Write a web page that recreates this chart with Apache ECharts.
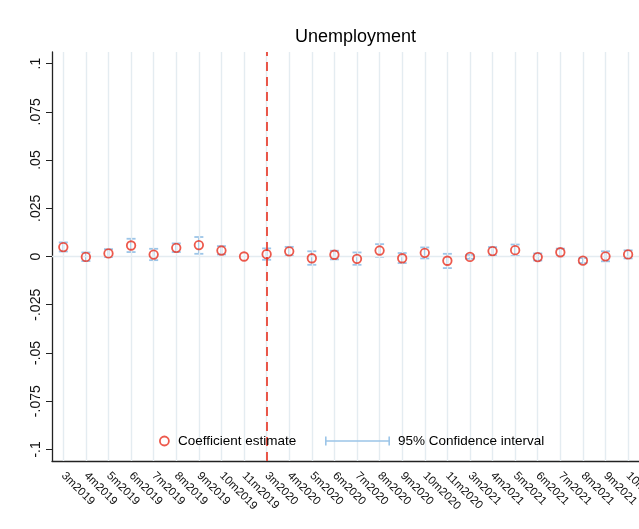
<!DOCTYPE html>
<html>
<head>
<meta charset="utf-8">
<title>Unemployment</title>
<script src="https://cdn.jsdelivr.net/npm/echarts@6/dist/echarts.min.js"></script>
<style>
  html, body { margin: 0; padding: 0; background: #fff; }
  #chart { width: 639px; height: 529px; }
</style>
</head>
<body>
<div id="chart"></div>
<script>
// Event-study months (March–November of each year)
const months = [
  '3m2019', '4m2019', '5m2019', '6m2019', '7m2019', '8m2019', '9m2019', '10m2019', '11m2019',
  '3m2020', '4m2020', '5m2020', '6m2020', '7m2020', '8m2020', '9m2020', '10m2020', '11m2020',
  '3m2021', '4m2021', '5m2021', '6m2021', '7m2021', '8m2021', '9m2021', '10m2021', '11m2021'
];

// Point estimates (11m2019 is the omitted reference month)
const estimate = [
  0.0049, -0.0002, 0.0016, 0.0057, 0.0010, 0.0045, 0.0059, 0.0031, 0.0000,
  0.0012, 0.0027, -0.0009, 0.0009, -0.0012, 0.0031, -0.0009, 0.0019, -0.0022,
  -0.0002, 0.0028, 0.0033, -0.0003, 0.0022, -0.0021, 0.0001, 0.0011, null
];

// 95% confidence bounds
const ciLow = [
  0.0026, -0.0024, -0.0003, 0.0023, -0.0019, 0.0023, 0.0014, 0.0010, null,
  -0.0017, 0.0004, -0.0043, -0.0015, -0.0043, -0.0002, -0.0034, -0.0010, -0.0060,
  -0.0012, 0.0005, 0.0003, -0.0021, 0.0001, -0.0034, -0.0025, -0.0010, null
];
const ciHigh = [
  0.0073, 0.0021, 0.0038, 0.0092, 0.0040, 0.0068, 0.0101, 0.0054, null,
  0.0042, 0.0050, 0.0027, 0.0030, 0.0021, 0.0064, 0.0018, 0.0047, 0.0014,
  0.0008, 0.0049, 0.0062, 0.0016, 0.0041, -0.0008, 0.0027, 0.0032, null
];

// Y tick positions and their labels
const yTickValues = [-0.1, -0.075, -0.05, -0.025, 0, 0.025, 0.05, 0.075, 0.1];
const yTickLabels = ['-.1', '-.075', '-.05', '-.025', '0', '.025', '.05', '.075', '.1'];

const eventMonth = '3m2020';

const FONT = '"Liberation Sans", Arial, Helvetica, sans-serif';
const RED = '#e8301f';
const BLUE = '#9cc5e8';
const GRID = '#e4ecf1';

const ciData = [];
months.forEach(function (m, i) {
  if (ciLow[i] != null && ciHigh[i] != null) ciData.push([i, ciLow[i], ciHigh[i]]);
});

function tickLabel(v) {
  for (let i = 0; i < yTickValues.length; i++) {
    if (Math.abs(yTickValues[i] - v) < 1e-9) return yTickLabels[i];
  }
  return '';
}

const chart = echarts.init(document.getElementById('chart'), null, { renderer: 'canvas' });

chart.setOption({
  animation: false,
  backgroundColor: '#fff',
  title: {
    text: 'Unemployment',
    left: 290,
    top: 23,
    textStyle: { fontFamily: FONT, fontSize: 18, fontWeight: 'normal', color: '#000' }
  },
  // white panel behind the legend, covering the reference lines
  graphic: [{
    type: 'rect',
    left: 150,
    top: 424,
    z: 3.5,
    silent: true,
    shape: { width: 404, height: 29 },
    style: { fill: '#fff' }
  }],
  legend: [
    {
      left: 154,
      top: 429,
      z: 6,
      selectedMode: false,
      itemWidth: 9,
      itemHeight: 9,
      textStyle: { fontFamily: FONT, fontSize: 13.5, color: '#000', padding: [0, 0, 0, 4] },
      data: [{
        name: 'Coefficient estimate',
        icon: 'circle',
        itemStyle: { color: 'rgba(0,0,0,0)', borderColor: RED, borderWidth: 1.8 }
      }]
    },
    {
      left: 320,
      top: 429,
      z: 6,
      selectedMode: false,
      itemWidth: 65,
      itemHeight: 9,
      textStyle: { fontFamily: FONT, fontSize: 13.5, color: '#000', padding: [0, 0, 0, 3] },
      data: [{
        name: '95% Confidence interval',
        icon: 'path://M0,0h1.6v9h-1.6z M0,3.7h65v1.6h-65z M63.4,0h1.6v9h-1.6z',
        itemStyle: { color: BLUE, borderWidth: 0 }
      }]
    }
  ],
  // the plot runs past the right edge of the page
  grid: {
    left: 52, width: 610, top: 52, height: 409,
    containLabel: false,
    outerBoundsMode: 'none'
  },
  xAxis: {
    type: 'category',
    data: months,
    boundaryGap: true,
    axisLine: { onZero: false, lineStyle: { color: '#222', width: 1.3 } },
    axisTick: { alignWithLabel: true, length: 6, lineStyle: { color: '#222', width: 1 } },
    axisLabel: {
      interval: 0, rotate: -45, margin: 13,
      fontFamily: FONT, fontSize: 11.5, color: '#111'
    },
    splitLine: { show: false }
  },
  yAxis: {
    type: 'value',
    min: -0.106,
    max: 0.106,
    axisLine: { show: true, onZero: false, lineStyle: { color: '#222', width: 1.3 } },
    axisTick: { show: true, length: 6, customValues: yTickValues, lineStyle: { color: '#222', width: 1 } },
    axisLabel: {
      customValues: yTickValues,
      rotate: 90,
      margin: 9,
      fontFamily: FONT, fontSize: 14, color: '#111',
      formatter: tickLabel
    },
    splitLine: { show: false }
  },
  series: [
    {
      // light reference lines: one per month and one at zero
      type: 'line',
      data: [],
      silent: true,
      markLine: {
        silent: true,
        symbol: 'none',
        label: { show: false },
        lineStyle: { color: GRID, width: 1.4, type: 'solid' },
        data: months.map(function (m) { return { xAxis: m }; }).concat([{ yAxis: 0 }])
      }
    },
    {
      // event line
      type: 'line',
      data: [],
      silent: true,
      z: 3,
      markLine: {
        silent: true,
        symbol: 'none',
        label: { show: false },
        lineStyle: { color: RED, width: 1.6, type: [9, 6] },
        data: [{ xAxis: eventMonth }]
      }
    },
    {
      name: '95% Confidence interval',
      type: 'custom',
      z: 4,
      data: ciData,
      encode: { x: 0, y: [1, 2] },
      renderItem: function (params, api) {
        const x = api.value(0);
        const lo = api.coord([x, api.value(1)]);
        const hi = api.coord([x, api.value(2)]);
        const cap = 4.5;
        const style = { stroke: BLUE, lineWidth: 1.8 };
        return {
          type: 'group',
          children: [
            { type: 'line', shape: { x1: lo[0], y1: lo[1], x2: hi[0], y2: hi[1] }, style: style },
            { type: 'line', shape: { x1: lo[0] - cap, y1: lo[1], x2: lo[0] + cap, y2: lo[1] }, style: style },
            { type: 'line', shape: { x1: hi[0] - cap, y1: hi[1], x2: hi[0] + cap, y2: hi[1] }, style: style }
          ]
        };
      }
    },
    {
      name: 'Coefficient estimate',
      type: 'scatter',
      z: 5,
      data: estimate,
      symbol: 'circle',
      symbolSize: 8.5,
      itemStyle: { color: 'rgba(0,0,0,0)', borderColor: RED, borderWidth: 1.8 }
    }
  ]
});
</script>
</body>
</html>
